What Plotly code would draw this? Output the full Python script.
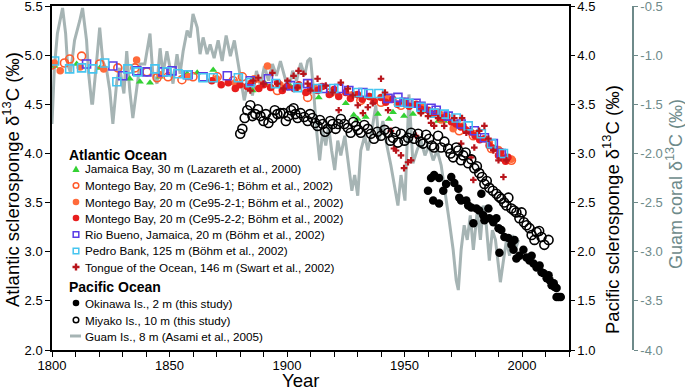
import plotly.graph_objects as go

# ---------------- data ----------------
# Guam coral d13C (right-most axis)
guam_year = [1800, 1801, 1802.3, 1804.5, 1805.8, 1806.6, 1807.9, 1809.6, 1811.8, 1813,
             1814.7, 1815.6, 1816.9, 1817.3, 1819, 1820.3, 1821.6, 1823.3, 1824.6, 1825.9,
             1827.6, 1828.8, 1830.6, 1831.8, 1833.1, 1834.4, 1836.1, 1837.4, 1839.5, 1841.7,
             1842.9, 1844.7, 1846, 1847.2, 1848.9, 1850.2, 1851.5, 1853.2, 1854.5, 1855.8,
             1857.5, 1858.8, 1860, 1861.8, 1863, 1864.3, 1866, 1867.3, 1869, 1870.7,
             1872.4, 1874.1, 1875.9, 1877.6, 1879.3, 1880.6, 1881.8, 1883.5, 1885.3, 1887,
             1888.7, 1890.4, 1892.1, 1893.8, 1895.5, 1897.2, 1898.9, 1900.6, 1902.4, 1904.1,
             1905.8, 1907.5, 1908.8, 1910, 1911.3, 1912.6, 1913.9, 1915.2, 1916.5, 1917.7,
             1919, 1920.3, 1921.6, 1922.9, 1924.6, 1926.3, 1927.6, 1928.8, 1930.1, 1931.4,
             1933.1, 1934.4, 1936.1, 1937.8, 1939.1, 1940.8, 1942.5, 1944.2, 1945.9, 1947.2,
             1948.5, 1950.2, 1951.9, 1953.6, 1955.3, 1957, 1958.7, 1960.4, 1962.2, 1963.9,
             1965.6, 1967.3, 1969, 1970.7, 1972, 1972.9, 1974.1, 1975.4, 1976.7, 1978,
             1979.3, 1981, 1982.3, 1983.5, 1984.8, 1986.1, 1987.4, 1988.7, 1990, 1990.8,
             1992.1, 1993.4, 1994.7, 1995.9, 1997.2, 1998.5]
guam_d13c = [-1.70, -1.13, -0.78, -0.52, -0.78, -1.09, -1.18, -0.85, -0.65, -0.52,
             -0.85, -1.19, -1.49, -1.49, -1.06, -0.72, -1.06, -1.16, -1.36, -1.70,
             -1.26, -1.13, -1.39, -0.96, -1.36, -1.64, -1.33, -1.09, -1.09, -0.78,
             -1.19, -1.29, -0.93, -1.19, -0.96, -1.13, -1.29, -0.99, -1.19, -0.96,
             -0.75, -0.82, -0.58, -0.72, -0.99, -0.82, -0.99, -0.89, -1.03, -0.85,
             -1.06, -0.80, -1.01, -0.85, -1.11, -1.31, -1.46, -1.26, -1.41, -1.16,
             -1.31, -1.11, -1.26, -1.09, -1.21, -1.06, -1.21, -1.36, -1.16, -1.26,
             -1.08, -1.21, -1.06, -1.03, -1.36, -1.77, -2.07, -1.77, -1.92, -1.72,
             -1.97, -2.17, -1.87, -2.02, -1.82, -2.17, -2.38, -2.22, -2.43, -1.97,
             -1.82, -1.97, -1.77, -1.51, -1.87, -1.67, -1.92, -2.12, -2.38, -2.53,
             -2.22, -2.48, -1.40, -2.10, -1.97, -1.87, -2.02, -1.92, -2.07, -1.97,
             -2.12, -2.38, -2.68, -2.98, -3.29, -3.39, -2.98, -2.73, -2.88, -2.63,
             -2.98, -2.58, -2.88, -2.53, -2.73, -3.09, -2.78, -2.88, -3.14, -3.31,
             -3.09, -2.88, -3.04, -2.83, -2.98, -2.88]

# Atlantic sclerosponges (left axis)
jam_year = [1801.1, 1810.5, 1820.3, 1833.1, 1837.4, 1841.7, 1845.9, 1857.5, 1861.8, 1868.6,
            1880.1, 1885.3, 1890.8, 1901.5, 1913.5, 1925, 1928.4, 1930.1, 1933.5, 1938.7,
            1943.4, 1945.1, 1949.8, 1953.6, 1964.3, 1966.9]
jam_d13c = [4.89, 4.91, 4.87, 4.76, 4.73, 4.72, 4.78, 4.81, 4.82, 4.85,
            4.72, 4.64, 4.71, 4.68, 4.57, 4.51, 4.39, 4.35, 4.37, 4.40,
            4.35, 4.42, 4.38, 4.40, 4.33, 4.33]

ce961_year = [1800, 1805.3, 1807.5, 1812.6, 1820.3, 1828, 1835.3, 1840.4, 1844.7, 1849.4,
              1855.3, 1860, 1870.3, 1877.1, 1881, 1887.8, 1895.9, 1908.8, 1918.6, 1931.4,
              1940, 1948.5, 1957, 1965.6, 1973.3, 1979.3, 1987, 1995.5]
ce961_d13c = [4.90, 4.92, 4.96, 4.99, 4.91, 4.87, 4.87, 4.83, 4.77, 4.78,
              4.75, 4.78, 4.78, 4.74, 4.78, 4.69, 4.64, 4.57, 4.62, 4.54,
              4.52, 4.49, 4.44, 4.35, 4.23, 4.18, 4.05, 3.93]

ce9521_year = [1801, 1803.5, 1812, 1822, 1836, 1846, 1858, 1870, 1878, 1886,
               1891.7, 1897, 1905, 1912, 1920, 1928, 1935, 1943, 1950, 1958,
               1965, 1970.7, 1975, 1980, 1986.1, 1990, 1993, 1995.5]
ce9521_d13c = [4.92, 4.84, 4.88, 4.86, 4.95, 4.80, 4.78, 4.76, 4.72, 4.76,
               4.89, 4.70, 4.68, 4.66, 4.63, 4.60, 4.58, 4.56, 4.53, 4.47,
               4.40, 4.25, 4.28, 4.20, 4.11, 4.04, 3.96, 3.94]

ce9522_year = [1868, 1872, 1875, 1878, 1880, 1883, 1885, 1888, 1890, 1893,
               1896, 1898, 1900, 1903, 1905, 1908, 1910, 1913, 1915, 1918,
               1920, 1922, 1925, 1927, 1930, 1932, 1935, 1937, 1940, 1942,
               1945, 1947, 1950, 1952, 1955, 1957, 1960, 1962, 1964, 1966,
               1968, 1970, 1972, 1974, 1976, 1978, 1980, 1982, 1984, 1986,
               1988, 1990, 1991, 1992, 1993, 1994]
ce9522_d13c = [4.74, 4.70, 4.72, 4.66, 4.70, 4.68, 4.72, 4.66, 4.70, 4.67,
               4.72, 4.64, 4.68, 4.66, 4.70, 4.62, 4.67, 4.64, 4.68, 4.60,
               4.65, 4.58, 4.62, 4.56, 4.60, 4.55, 4.58, 4.53, 4.57, 4.52,
               4.55, 4.50, 4.52, 4.48, 4.50, 4.45, 4.44, 4.40, 4.42, 4.36,
               4.38, 4.32, 4.30, 4.27, 4.24, 4.22, 4.18, 4.14, 4.15, 4.08,
               4.05, 3.98, 4.02, 3.95, 3.92, 3.96]

rio_year = [1814.7, 1825.9, 1830.1, 1836.1, 1840.4, 1847.2, 1851.1, 1857.9, 1864.3, 1874.6,
            1884.4, 1892.1, 1901.5, 1908.8, 1915.2, 1922, 1926.3, 1932.3, 1943, 1947.2,
            1949.8, 1954.9, 1957, 1961.3, 1963.5, 1968.6, 1974.1, 1979.7, 1984, 1987.8,
            1991.2]
rio_d13c = [4.91, 4.89, 4.79, 4.84, 4.83, 4.83, 4.84, 4.80, 4.78, 4.79,
            4.74, 4.76, 4.69, 4.71, 4.66, 4.66, 4.64, 4.62, 4.56, 4.57,
            4.52, 4.51, 4.48, 4.46, 4.44, 4.38, 4.30, 4.23, 4.16, 4.10,
            4.00]

pedro_year = [1801.1, 1807.5, 1812.6, 1817.3, 1822.4, 1827.6, 1832.3, 1836.5, 1843.8, 1848.9,
              1853.6, 1857.5, 1864.3, 1868.6, 1879.3, 1884.4, 1895.1, 1904.5, 1913, 1919.9,
              1930.1, 1934.8, 1939.1, 1947.6, 1951.9, 1957, 1962.6, 1966.9, 1972, 1977.1,
              1982.7, 1987, 1992.1]
pedro_d13c = [4.94, 4.86, 4.87, 4.86, 4.92, 4.73, 4.86, 4.83, 4.86, 4.83,
              4.81, 4.80, 4.77, 4.77, 4.77, 4.72, 4.71, 4.67, 4.66, 4.66,
              4.62, 4.61, 4.61, 4.52, 4.51, 4.47, 4.41, 4.40, 4.36, 4.28,
              4.20, 4.10, 4.00]

tongue_year = [1884.4, 1885.7, 1887.8, 1890, 1893.8, 1895.9, 1898.5, 1900.2, 1902.8, 1904.5,
               1904.9, 1907, 1908.8, 1910, 1913, 1916.5, 1919.4, 1922, 1922.9, 1925.9,
               1928, 1930.1, 1932.3, 1934.4, 1936.5, 1940, 1941.7, 1943, 1944.2, 1945.5,
               1946.4, 1948.5, 1949.8, 1951.5, 1952.8, 1954.9, 1957, 1960, 1961.3, 1962.6,
               1964.3, 1966.9, 1971.2, 1974.1, 1974.5, 1976.3, 1978.4, 1979.3, 1979.7, 1981.8,
               1984, 1985.7, 1987.8, 1990, 1992.1, 1993.4]
tongue_d13c = [4.64, 4.74, 4.77, 4.71, 4.82, 4.71, 4.66, 4.74, 4.79, 4.67,
               4.84, 4.81, 4.71, 4.64, 4.76, 4.69, 4.62, 4.44, 4.72, 4.66,
               4.59, 4.49, 4.41, 4.47, 4.51, 4.76, 4.62, 4.44, 4.23, 4.05,
               4.03, 3.98, 3.85, 3.91, 3.93, 4.18, 4.41, 4.38, 4.31, 4.28,
               4.36, 4.28, 4.36, 4.10, 4.36, 4.21, 3.96, 3.73, 4.06, 4.23,
               4.28, 4.15, 4.03, 3.93, 3.76, 3.93]

# Pacific sclerosponges (right axis)
oki_year = [1960, 1961.3, 1962.2, 1962.6, 1964.7, 1964.7, 1966.5, 1967.7, 1969.9, 1971.2,
            1972.9, 1973.3, 1974.1, 1976.3, 1977.1, 1978.4, 1979.3, 1980.6, 1981.8, 1982.7,
            1983.5, 1984, 1985.7, 1986.1, 1987.8, 1989.1, 1990, 1990.4, 1991.2, 1992.5,
            1994.2, 1995.5, 1996.4, 1996.8, 1997.6, 1998.9, 2000.6, 2001.9, 2003.2, 2004.1,
            2004.9, 2006.2, 2007.5, 2008.3, 2009.2, 2010.5, 2011.3, 2011.8, 2012.6, 2013.5,
            2013.9, 2014.7, 2014.7, 2015.6, 2016.5]
oki_d13c = [2.62, 2.75, 2.52, 2.78, 2.75, 2.49, 2.62, 2.69, 2.76, 2.70,
            2.64, 2.55, 2.52, 2.52, 2.47, 2.45, 2.29, 2.44, 2.42, 2.59,
            2.37, 2.32, 2.44, 2.34, 2.30, 2.34, 2.24, 1.99, 2.22, 2.15,
            2.14, 2.07, 2.02, 2.12, 1.93, 1.96, 2.02, 1.94, 1.91, 1.96,
            1.88, 1.84, 1.86, 1.79, 1.78, 1.73, 1.76, 1.71, 1.66, 1.68,
            1.64, 1.63, 1.54, 1.54, 1.54]

miy_year = [1880.1, 1881, 1882, 1883.1, 1884.4, 1885.3, 1886.5, 1887.6, 1888.7, 1890,
            1891, 1892.1, 1893.8, 1894.8, 1895.9, 1897.2, 1898.5, 1899.5, 1900.6, 1901.7,
            1902.8, 1903.6, 1904.5, 1905.8, 1907.3, 1908.8, 1909.8, 1910.9, 1912, 1913,
            1914, 1915.2, 1916.2, 1917.3, 1918.4, 1919.4, 1920.7, 1921.8, 1922.9, 1924.4,
            1925.9, 1927.1, 1928.2, 1929.3, 1930.3, 1931.4, 1932.9, 1934.4, 1935.7, 1937,
            1938.5, 1940, 1941.5, 1943, 1944, 1945.1, 1946.2, 1947.2, 1948.5, 1950,
            1951.5, 1952.8, 1954.1, 1955.8, 1956.8, 1957.9, 1959.2, 1960.5, 1961.6, 1962.6,
            1964.3, 1965.6, 1967, 1968.6, 1969.6, 1970.7, 1972, 1972.9, 1974, 1975,
            1976, 1977.1, 1978.4, 1979.7, 1980.8, 1981.8, 1983, 1984, 1985, 1986.1,
            1987.6, 1989.1, 1990.2, 1991.2, 1992.4, 1993.4, 1994.2, 1995.5, 1996.6, 1997.6,
            1998.9, 1999.8, 2000.8, 2001.9, 2003.2, 2004.1, 2005.3, 2006.2, 2007.3, 2008.3,
            2009.5, 2011.3]
miy_d13c = [3.20, 3.25, 3.36, 3.44, 3.49, 3.38, 3.40, 3.45, 3.38, 3.33,
            3.40, 3.31, 3.36, 3.44, 3.40, 3.41, 3.41, 3.33, 3.38, 3.44,
            3.46, 3.40, 3.36, 3.41, 3.37, 3.33, 3.40, 3.36, 3.31, 3.28,
            3.34, 3.30, 3.22, 3.25, 3.33, 3.30, 3.25, 3.30, 3.35, 3.30,
            3.26, 3.21, 3.32, 3.28, 3.24, 3.21, 3.29, 3.25, 3.20, 3.15,
            3.22, 3.18, 3.24, 3.21, 3.13, 3.16, 3.22, 3.11, 3.20, 3.13,
            3.16, 3.21, 3.15, 3.20, 3.12, 3.10, 3.19, 3.15, 3.08, 3.06,
            3.18, 3.06, 3.12, 3.05, 3.00, 2.96, 3.06, 3.03, 2.93, 2.98,
            3.01, 2.90, 2.94, 2.85, 2.87, 2.80, 2.76, 2.69, 2.72, 2.65,
            2.62, 2.59, 2.56, 2.54, 2.50, 2.47, 2.55, 2.44, 2.42, 2.40,
            2.34, 2.40, 2.30, 2.27, 2.24, 2.17, 2.12, 2.20, 2.21, 2.15,
            2.07, 2.12]

x_range = [1800, 2020]
atl_range = [2.0, 5.5]
pac_range = [1.0, 4.5]
guam_range = [-4.0, -0.5]
guam_ticks = [-4.0, -3.5, -3.0, -2.5, -2.0, -1.5, -1.0, -0.5]
guam_ticktext = ["-4.0", "-3.5", "-3.0", "-2.5", "-2.0", "-1.5", "-1.0", "-0.5"]

x_title = "Year"
atl_title = "Atlantic sclerosponge δ<sup>13</sup>C (‰)"
pac_title = "Pacific sclerosponge δ<sup>13</sup>C (‰)"
guam_title = "Guam coral δ<sup>13</sup>C (‰)"

legend_labels = [
    "Jamaica Bay, 30 m (Lazareth et al., 2000)",
    "Montego Bay, 20 m (Ce96-1; Böhm et al., 2002)",
    "Montego Bay, 20 m (Ce95-2-1; Böhm et al., 2002)",
    "Montego Bay, 20 m (Ce95-2-2; Böhm et al., 2002)",
    "Rio Bueno, Jamaica, 20 m (Böhm et al., 2002)",
    "Pedro Bank, 125 m (Böhm et al., 2002)",
    "Tongue of the Ocean, 146 m (Swart et al., 2002)",
    "Okinawa Is., 2 m (this study)",
    "Miyako Is., 10 m (this study)",
    "Guam Is., 8 m (Asami et al., 2005)",
]

# ---------------- style ----------------
FONT = "Liberation Sans, Arial, Helvetica, sans-serif"
GREEN = "#33d133"
ORANGE_OPEN = "#ff5a2a"
ORANGE = "#ff6a3a"
RED = "#e81d1d"
BLUE = "#5a3ce6"
CYAN = "#45c5f0"
DKRED = "#b8141b"
GUAM_LINE = "#a6b4b4"
GUAM_AXIS = "#6e8a8a"

W, H = 685, 390
ML, MR, MT, MB = 52, 20, 6, 40
PW, PH = W - ML - MR, H - MT - MB
x_end = (569 - ML) / PW
guam_pos = (633 - ML) / PW


def pxx(px):
    return (px - ML) / PW


def pxy(py):
    return (H - MB - py) / PH


fig = go.Figure()

fig.add_trace(go.Scatter(x=guam_year, y=guam_d13c, mode="lines", yaxis="y",
                         line=dict(color=GUAM_LINE, width=3), showlegend=False))

atl = [
    (jam_year, jam_d13c, dict(symbol="triangle-up", size=7, color=GREEN)),
    (ce961_year, ce961_d13c, dict(symbol="circle-open", size=8, color=ORANGE_OPEN, line=dict(width=1.6))),
    (ce9521_year, ce9521_d13c, dict(symbol="circle", size=7.5, color=ORANGE)),
    (ce9522_year, ce9522_d13c, dict(symbol="circle", size=7.5, color=RED)),
    (rio_year, rio_d13c, dict(symbol="square-open", size=8, color=BLUE, line=dict(width=1.6))),
    (pedro_year, pedro_d13c, dict(symbol="square-open", size=8, color=CYAN, line=dict(width=1.6))),
    (tongue_year, tongue_d13c, dict(symbol="cross", size=5.5, color=DKRED)),
]
for xs, ys, mk in atl:
    fig.add_trace(go.Scatter(x=xs, y=ys, mode="markers", yaxis="y2", marker=mk, showlegend=False))

fig.add_trace(go.Scatter(x=oki_year, y=oki_d13c, mode="markers", yaxis="y3",
                         marker=dict(symbol="circle", size=8.5, color="black"), showlegend=False))
fig.add_trace(go.Scatter(x=miy_year, y=miy_d13c, mode="markers", yaxis="y3",
                         marker=dict(symbol="circle-open", size=9, color="black", line=dict(width=1.6)),
                         showlegend=False))

# ---------------- custom legend ----------------
shapes = []
annotations = []
SX = pxx(76)
TX = pxx(83)
rows = [169, 185.5, 202, 218, 234.5, 251, 267, 303, 320, 336]
r = 3.3
sym_specs = [
    ("tri", GREEN), ("circ_open", ORANGE_OPEN), ("circ", ORANGE), ("circ", RED),
    ("sq_open", BLUE), ("sq_open", CYAN), ("cross", DKRED),
    ("circ", "black"), ("circ_open", "black"), ("line", GUAM_LINE),
]
for (kind, col), py, lab in zip(sym_specs, rows, legend_labels):
    yy = pxy(py)
    base = dict(xref="paper", yref="paper", xsizemode="pixel", ysizemode="pixel",
                xanchor=SX, yanchor=yy, layer="above")
    if kind == "circ":
        shapes.append(dict(type="circle", x0=-r, x1=r, y0=-r, y1=r, fillcolor=col,
                           line=dict(color=col, width=0), **base))
    elif kind == "circ_open":
        shapes.append(dict(type="circle", x0=-r + 0.5, x1=r - 0.5, y0=-r + 0.5, y1=r - 0.5,
                           fillcolor="white", line=dict(color=col, width=1.5), **base))
    elif kind == "sq_open":
        shapes.append(dict(type="rect", x0=-r + 0.5, x1=r - 0.5, y0=-r + 0.5, y1=r - 0.5,
                           fillcolor="white", line=dict(color=col, width=1.5), **base))
    elif kind == "tri":
        shapes.append(dict(type="path", path="M -3.6 -3 L 3.6 -3 L 0 3.6 Z", fillcolor=col,
                           line=dict(color=col, width=0), **base))
    elif kind == "cross":
        shapes.append(dict(type="path",
                           path="M -1.2 -3.5 L 1.2 -3.5 L 1.2 -1.2 L 3.5 -1.2 L 3.5 1.2 L 1.2 1.2 "
                                "L 1.2 3.5 L -1.2 3.5 L -1.2 1.2 L -3.5 1.2 L -3.5 -1.2 L -1.2 -1.2 Z",
                           fillcolor=col, line=dict(color=col, width=0), **base))
    elif kind == "line":
        shapes.append(dict(type="line", x0=-6, x1=5, y0=0, y1=0,
                           line=dict(color=col, width=3), **base))
    annotations.append(dict(xref="paper", yref="paper", x=TX, y=yy, xanchor="left", yanchor="middle",
                            text=lab, showarrow=False, font=dict(family=FONT, size=11.7, color="black")))

for txt, py in [("Atlantic Ocean", 155), ("Pacific Ocean", 287)]:
    annotations.append(dict(xref="paper", yref="paper", x=pxx(67), y=pxy(py), xanchor="left",
                            yanchor="middle", text="<b>%s</b>" % txt, showarrow=False,
                            font=dict(family=FONT, size=14, color="black")))

# axis titles (placed as in the reference)
TFS = 18.5
annotations += [
    dict(xref="paper", yref="paper", x=pxx(300), y=pxy(380), xanchor="center", yanchor="middle",
         text=x_title, showarrow=False, font=dict(family=FONT, size=TFS, color="black")),
    dict(xref="paper", yref="paper", x=pxx(11), y=pxy(180), xanchor="center", yanchor="middle",
         textangle=-90, text=atl_title, showarrow=False, font=dict(family=FONT, size=TFS, color="black")),
    dict(xref="paper", yref="paper", x=pxx(611), y=pxy(210), xanchor="center", yanchor="middle",
         textangle=-90, text=pac_title, showarrow=False, font=dict(family=FONT, size=TFS, color="black")),
    dict(xref="paper", yref="paper", x=pxx(674), y=pxy(184), xanchor="center", yanchor="middle",
         textangle=-90, text=guam_title, showarrow=False, font=dict(family=FONT, size=18, color=GUAM_AXIS)),
]

tickfont = dict(family=FONT, size=13, color="black")

fig.update_layout(
    width=W, height=H,
    margin=dict(l=ML, r=MR, t=MT, b=MB, autoexpand=False),
    paper_bgcolor="white", plot_bgcolor="white",
    showlegend=False,
    font=dict(family=FONT),
    shapes=shapes,
    annotations=annotations,
    xaxis=dict(domain=[0, x_end], range=x_range, showgrid=False, zeroline=False,
               showline=True, linecolor="black", linewidth=1.5, mirror=True,
               ticks="outside", ticklen=5, tickwidth=1.2, tickcolor="black",
               tickvals=[1800, 1850, 1900, 1950, 2000], tickfont=tickfont,
               ticklabelstandoff=-2, ticklabeloverflow="allow",
               minor=dict(dtick=10, tick0=1800, ticks="outside", ticklen=5, tickwidth=1.2,
                          tickcolor="black", showgrid=False)),
    yaxis=dict(range=guam_range, anchor="free", position=guam_pos, side="right",
               showgrid=False, zeroline=False, showline=True, linecolor=GUAM_AXIS, linewidth=1.5,
               ticks="outside", ticklen=4, tickwidth=1.2, tickcolor=GUAM_AXIS,
               tickvals=guam_ticks, ticktext=guam_ticktext, ticklabeloverflow="allow",
               tickfont=dict(family=FONT, size=13, color=GUAM_AXIS)),
    yaxis2=dict(range=atl_range, overlaying="y", side="left", anchor="x",
                showgrid=False, zeroline=False, showline=True, linecolor="black", linewidth=1.5,
                ticks="outside", ticklen=5, tickwidth=1.2, tickcolor="black", ticklabeloverflow="allow",
                dtick=0.5, tick0=2.0, tickformat=".1f", tickfont=tickfont),
    yaxis3=dict(range=pac_range, overlaying="y", side="right", anchor="x",
                showgrid=False, zeroline=False, showline=True, linecolor="black", linewidth=1.5,
                ticks="outside", ticklen=4, tickwidth=1.2, tickcolor="black", ticklabeloverflow="allow",
                dtick=0.5, tick0=1.0, tickformat=".1f", tickfont=tickfont),
)

fig.write_html("out.html", config={"displayModeBar": False},
               post_script="document.body.style.margin='0px';")
